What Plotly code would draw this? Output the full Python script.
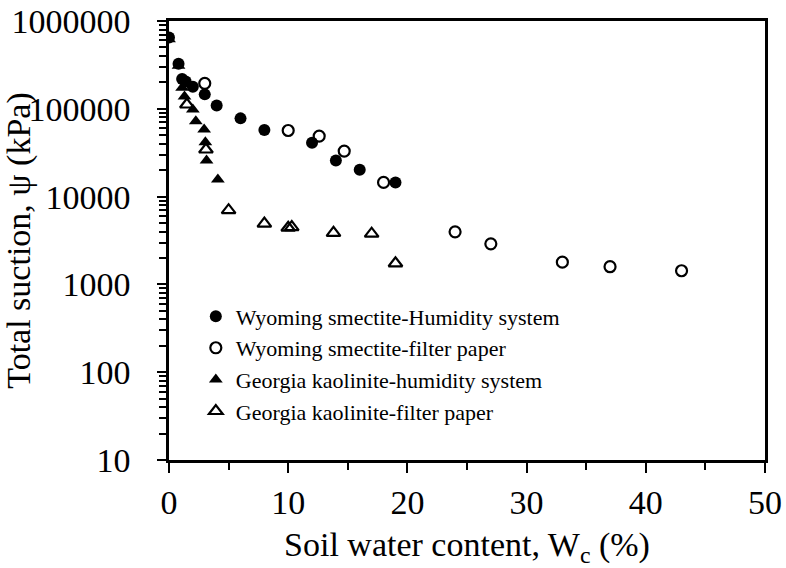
import plotly.graph_objects as go

# Wyoming smectite - humidity system (filled circles)
ws_hum_x = [0, 0.8, 1.1, 1.4, 2.0, 3.0, 4.0, 6.0, 8.0, 12.0, 14.0, 16.0, 19.0]
ws_hum_y = [650000, 325000, 218000, 205000, 178000, 146000, 109000, 77800, 57200, 41000, 25800, 20200, 14500]

# Wyoming smectite - filter paper (open circles)
ws_fp_x = [3.0, 10.0, 12.6, 14.7, 18.0, 24.0, 27.0, 33.0, 37.0, 43.0]
ws_fp_y = [195000, 56600, 48900, 33000, 14500, 3970, 2900, 1790, 1590, 1430]

# Georgia kaolinite - humidity system (filled triangles)
gk_hum_x = [0, 0.8, 1.1, 1.3, 2.0, 2.25, 2.95, 3.05, 3.15, 4.1]
gk_hum_y = [620000, 310000, 174000, 138000, 98500, 72300, 58200, 41700, 25800, 15700]

# Georgia kaolinite - filter paper (open triangles)
gk_fp_x = [1.5, 3.1, 5.0, 8.0, 10.0, 10.3, 13.8, 17.0, 19.0]
gk_fp_y = [112000, 34400, 7000, 4930, 4420, 4500, 3870, 3780, 1740]

y_tickvals = [10, 100, 1000, 10000, 100000, 1000000]
y_ticktext = ["10", "100", "1000", "10000", "100000", "1000000"]
x_tickvals = [0, 10, 20, 30, 40, 50]

names = [
    "Wyoming smectite-Humidity system",
    "Wyoming smectite-filter paper",
    "Georgia kaolinite-humidity system",
    "Georgia kaolinite-filter paper",
]

FONT = "Liberation Serif"

fig = go.Figure()
fig.add_trace(go.Scatter(x=ws_fp_x, y=ws_fp_y, mode="markers", name=names[1], legendrank=2,
                         marker=dict(symbol="circle-open", size=11, color="black",
                                     line=dict(width=2.2, color="black"))))
fig.add_trace(go.Scatter(x=gk_fp_x, y=gk_fp_y, mode="markers", name=names[3], legendrank=4,
                         marker=dict(symbol="triangle-up-open", size=12, color="black",
                                     line=dict(width=2.2, color="black"))))
fig.add_trace(go.Scatter(x=gk_hum_x, y=gk_hum_y, mode="markers", name=names[2], legendrank=3,
                         marker=dict(symbol="triangle-up", size=12, color="black")))
fig.add_trace(go.Scatter(x=ws_hum_x, y=ws_hum_y, mode="markers", name=names[0], legendrank=1,
                         marker=dict(symbol="circle", size=12, color="black")))

fig.update_layout(
    width=786, height=568,
    margin=dict(l=169, r=21, t=21, b=108, autoexpand=False),
    paper_bgcolor="white", plot_bgcolor="white",
    font=dict(family=FONT, color="black", size=34),
    showlegend=True,
    legend=dict(x=0.045, y=0.375, xanchor="left", yanchor="top",
                font=dict(family=FONT, size=22, color="black"),
                bgcolor="rgba(0,0,0,0)", borderwidth=0,
                traceorder="normal", itemsizing="trace",
                tracegroupgap=0),
)

fig.update_xaxes(
    range=[0, 50], tickvals=x_tickvals, ticks="outside", ticklen=10, tickwidth=2,
    tickcolor="black", showline=True, linecolor="black", linewidth=2.5, mirror=True,
    showgrid=False, zeroline=False, automargin=False,
    minor=dict(ticks="outside", ticklen=7, tickwidth=2, tickcolor="black", dtick=5),
    tickfont=dict(family=FONT, size=34),
    title=dict(text="Soil water content, W<sub>c</sub> (%)", font=dict(family=FONT, size=34), standoff=14),
)
fig.update_yaxes(
    type="log", range=[1, 6], tickvals=y_tickvals, ticktext=y_ticktext,
    ticks="outside", ticklen=9, tickwidth=2, tickcolor="black",
    showline=True, linecolor="black", linewidth=2.5, mirror=True,
    showgrid=False, zeroline=False, automargin=False, ticklabelstandoff=20,
    minor=dict(ticks="outside", ticklen=7, tickwidth=1.5, tickcolor="black", dtick="D1", showgrid=False),
    tickfont=dict(family=FONT, size=34),
    title=dict(text="Total suction, \u03c8 (kPa)", font=dict(family=FONT, size=34), standoff=4),
)

fig.write_html("out.html")
